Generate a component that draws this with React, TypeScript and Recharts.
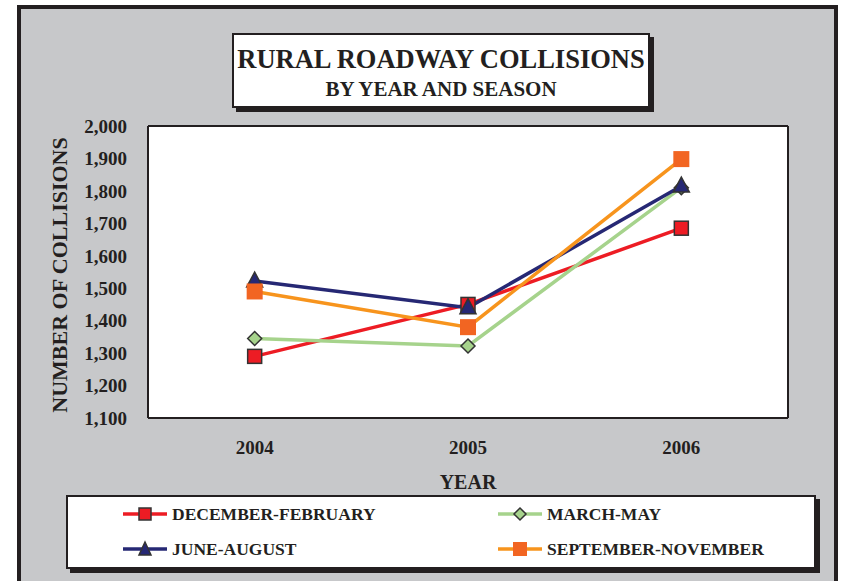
import React from 'react';
import { LineChart, Line, XAxis, YAxis, CartesianGrid } from 'recharts';

const years = ['2004', '2005', '2006'];
const decFeb = [1290, 1450, 1685];
const marMay = [1345, 1322, 1810];
const junAug = [1522, 1440, 1815];
const sepNov = [1490, 1380, 1898];
const yTicks = [1100, 1200, 1300, 1400, 1500, 1600, 1700, 1800, 1900, 2000];

const data = years.map((year, i) => ({
  year,
  decFeb: decFeb[i],
  marMay: marMay[i],
  junAug: junAug[i],
  sepNov: sepNov[i],
}));

const FONT = '"Liberation Serif", "Times New Roman", serif';
const INK = '#231f20';

// plot area: 640 wide, 3 categories centred in equal thirds
const PLOT_W = 640;
const EDGE = PLOT_W / years.length / 2;

type Shape = 'square' | 'diamond' | 'triangle' | 'bigsquare';

const Marker = ({ cx, cy, shape, fill }: { cx: number; cy: number; shape: Shape; fill: string }) => {
  if (cx == null || cy == null) return null;
  if (shape === 'square') {
    return <rect x={cx - 7} y={cy - 7} width={14} height={14} fill={fill} stroke="#333" strokeWidth={1.5} />;
  }
  if (shape === 'bigsquare') {
    return <rect x={cx - 8} y={cy - 8} width={16} height={16} fill={fill} stroke="none" />;
  }
  if (shape === 'diamond') {
    const r = 7;
    return (
      <polygon
        points={`${cx},${cy - r} ${cx + r},${cy} ${cx},${cy + r} ${cx - r},${cy}`}
        fill={fill}
        stroke="#333"
        strokeWidth={1.5}
      />
    );
  }
  return (
    <polygon
      points={`${cx},${cy - 9} ${cx + 8},${cy + 6} ${cx - 8},${cy + 6}`}
      fill={fill}
      stroke="#333"
      strokeWidth={1.5}
    />
  );
};

const series = [
  { key: 'decFeb', name: 'DECEMBER-FEBRUARY', line: '#ed1c24', fill: '#ed1c24', shape: 'square' as Shape },
  { key: 'marMay', name: 'MARCH-MAY', line: '#a6d38c', fill: '#a6d38c', shape: 'diamond' as Shape },
  { key: 'junAug', name: 'JUNE-AUGUST', line: '#262874', fill: '#262874', shape: 'triangle' as Shape },
  { key: 'sepNov', name: 'SEPTEMBER-NOVEMBER', line: '#f7941d', fill: '#f26522', shape: 'bigsquare' as Shape },
];

const LegendIcon = ({ s }: { s: (typeof series)[number] }) => (
  <svg width={46} height={20} style={{ display: 'block' }}>
    <line x1={1} y1={10} x2={45} y2={10} stroke={s.line} strokeWidth={3.5} />
    {s.shape === 'square' && <rect x={17} y={4} width={12} height={12} fill={s.fill} stroke="#333" strokeWidth={1.5} />}
    {s.shape === 'bigsquare' && <rect x={16} y={3} width={14} height={14} fill={s.fill} />}
    {s.shape === 'diamond' && (
      <polygon points="23,4 29,10 23,16 17,10" fill={s.fill} stroke="#333" strokeWidth={1.5} />
    )}
    {s.shape === 'triangle' && (
      <polygon points="23,3 29,16 17,16" fill={s.fill} stroke="#333" strokeWidth={1.5} />
    )}
  </svg>
);

const YLabel = ({ viewBox }: any) => {
  const x = 59;
  const y = viewBox.y + viewBox.height / 2 + 3;
  return (
    <text
      x={x}
      y={y}
      transform={`rotate(-90 ${x} ${y})`}
      textAnchor="middle"
      dominantBaseline="central"
      fontFamily={FONT}
      fontWeight="bold"
      fontSize={22}
      fill={INK}
    >
      NUMBER OF COLLISIONS
    </text>
  );
};

const XLabel = ({ viewBox }: any) => (
  <text
    x={viewBox.x + viewBox.width / 2}
    y={482}
    textAnchor="middle"
    dominantBaseline="central"
    fontFamily={FONT}
    fontWeight="bold"
    fontSize={20}
    fill={INK}
  >
    YEAR
  </text>
);

// frame the plot area: one grid line on each edge
const edgeRows = ({ offset }: any) => [offset.top, offset.top + offset.height];
const edgeCols = ({ offset }: any) => [offset.left, offset.left + offset.width];

const App = () => {
  return (
    <div style={{ position: 'absolute', left: 0, top: 0, width: 842, height: 581, overflow: 'hidden', background: '#fff' }}>
      <div
        style={{
          position: 'absolute',
          left: 17,
          top: 5,
          width: 813,
          height: 620,
          background: '#c7c8ca',
          border: `4px solid ${INK}`,
        }}
      />
      <div
        style={{
          position: 'absolute',
          left: 232,
          top: 33,
          width: 414,
          height: 71,
          background: '#fff',
          border: `2px solid ${INK}`,
          boxShadow: `4px 4px 0 ${INK}`,
          fontFamily: FONT,
          fontWeight: 'bold',
          color: INK,
          textAlign: 'center',
        }}
      >
        <div style={{ fontSize: 26.5, lineHeight: '26px', marginTop: 11, whiteSpace: 'nowrap' }}>RURAL ROADWAY COLLISIONS</div>
        <div style={{ fontSize: 21, lineHeight: '21px', marginTop: 7, whiteSpace: 'nowrap' }}>BY YEAR AND SEASON</div>
      </div>

      <div style={{ position: 'absolute', left: 0, top: 0 }}>
        <LineChart width={842} height={581} data={data} margin={{ top: 126, right: 54, left: 88, bottom: 133 }}>
          <CartesianGrid
            fill="#fff"
            stroke={INK}
            strokeWidth={2}
            horizontalCoordinatesGenerator={edgeRows}
            verticalCoordinatesGenerator={edgeCols}
          />
          <XAxis
            dataKey="year"
            height={30}
            padding={{ left: EDGE, right: EDGE }}
            axisLine={{ stroke: INK, strokeWidth: 2 }}
            tickLine={false}
            tickMargin={17}
            tick={{ fontFamily: FONT, fontWeight: 'bold', fontSize: 19, fill: INK }}
            label={<XLabel />}
          />
          <YAxis
            width={60}
            domain={[1100, 2000]}
            ticks={yTicks}
            interval={0}
            axisLine={{ stroke: INK, strokeWidth: 2 }}
            tickLine={false}
            tickMargin={15}
            tickFormatter={(v: number) => v.toLocaleString('en-US')}
            tick={{ fontFamily: FONT, fontWeight: 'bold', fontSize: 19, fill: INK }}
            label={<YLabel />}
          />
          {series.map((s) => (
            <Line
              key={s.key}
              dataKey={s.key}
              name={s.name}
              type="linear"
              stroke={s.line}
              strokeWidth={3.5}
              isAnimationActive={false}
              dot={(p: any) => <Marker key={`${s.key}-${p.index}`} cx={p.cx} cy={p.cy} shape={s.shape} fill={s.fill} />}
              activeDot={false}
            />
          ))}
        </LineChart>
      </div>

      <div
        style={{
          position: 'absolute',
          left: 66,
          top: 495,
          width: 746,
          height: 70,
          background: '#fff',
          border: `2px solid ${INK}`,
          boxShadow: `4px 4px 0 ${INK}`,
          fontFamily: FONT,
          fontWeight: 'bold',
          fontSize: 17.5,
          color: INK,
        }}
      >
        {series.map((s, i) => (
          <div
            key={s.key}
            style={{
              position: 'absolute',
              left: i % 2 === 0 ? 54 : 429,
              top: i < 2 ? 7 : 42,
              display: 'flex',
              alignItems: 'center',
              height: 20,
            }}
          >
            <LegendIcon s={s} />
            <span style={{ marginLeft: 4, whiteSpace: 'nowrap' }}>{s.name}</span>
          </div>
        ))}
      </div>
    </div>
  );
};

export default App;
